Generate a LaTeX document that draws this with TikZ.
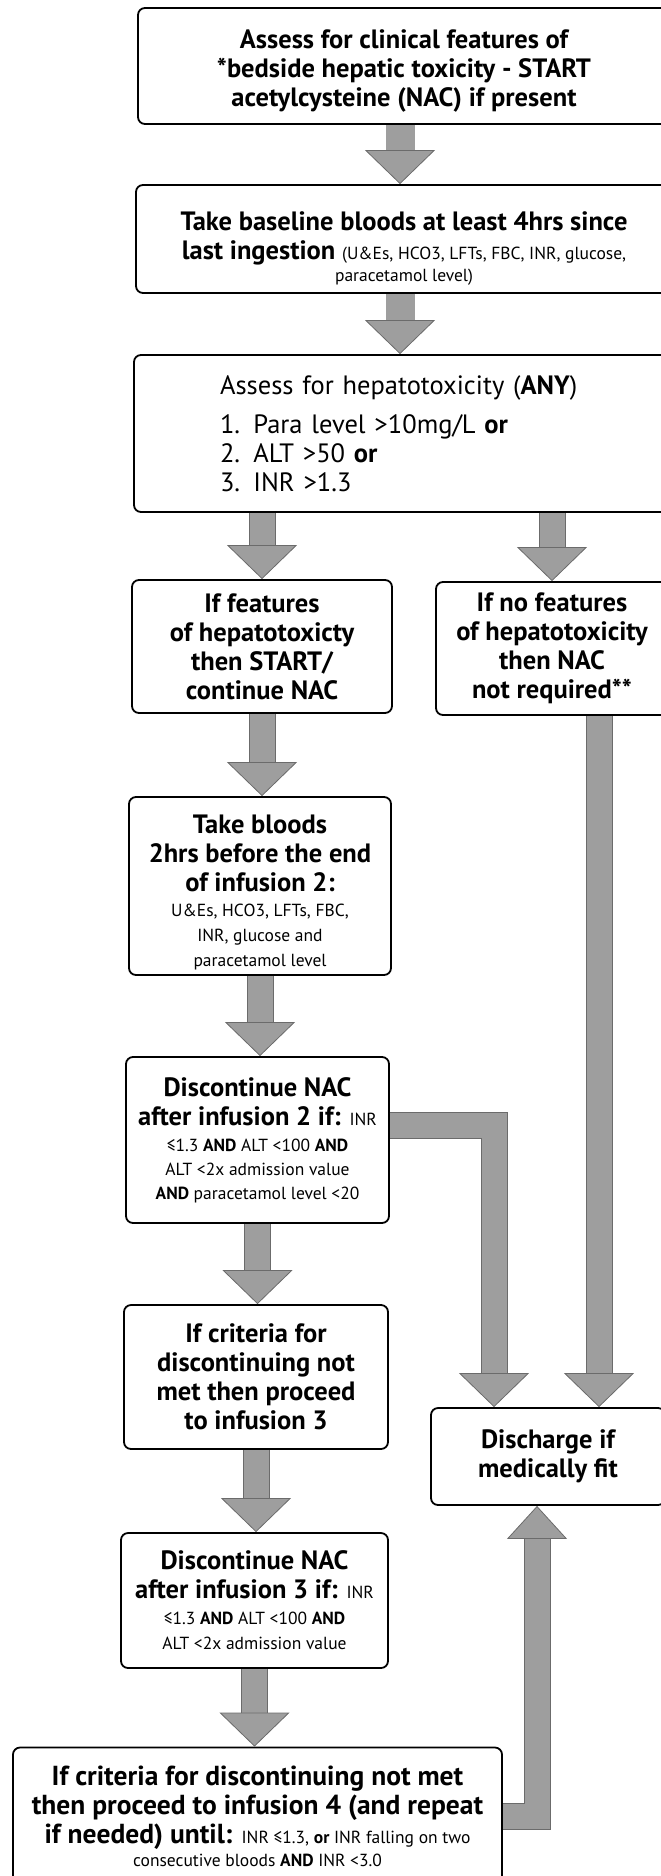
\documentclass[tikz,border=0pt]{standalone}
\usepackage{fontspec}
\setmainfont{PT Sans}
\usetikzlibrary{calc,arrows.meta,positioning}

\definecolor{shade}{gray}{0.62}
\definecolor{shadeedge}{gray}{0.42}

\newcommand{\bg}{\fontsize{26.5}{29}\selectfont}
\newcommand{\sm}{\fontsize{17.5}{22}\selectfont\mdseries}
\newcommand{\lift}[1]{\rule{0pt}{#1pt}}

\begin{document}
\begin{tikzpicture}[x=1pt, y=-1pt,
    box/.style={draw, line width=1.8pt, rounded corners=7pt, align=center, inner sep=0pt, font=\bfseries\bg},
    flow/.style={line width=25pt, draw=shade, line join=miter,
      -{Triangle[width=70pt, length=34pt, line width=0.8pt, color=shadeedge, fill=shade]},
      preaction={draw=shadeedge, line width=27pt, shorten >=33pt, -}}]
    \useasboundingbox (0,0) rectangle (661,1876);
    \clip (0,0) rectangle (661,1876);

    % boxes
    \node[box, minimum width=532pt, minimum height=116pt] (start) at (404,66)
      {\lift{29}Assess for clinical features of\\ *bedside hepatic toxicity - START\\ acetylcysteine (NAC) if present};
    \node[box, minimum width=536pt, minimum height=108pt] (base) at (404,239)
      {\lift{37}Take baseline bloods at least 4hrs since\\ last ingestion {\sm (U\&Es, HCO3, LFTs, FBC, INR, glucose,}\\[-7pt] {\sm paracetamol level)}};
    \node[box, minimum width=540pt, minimum height=157pt, align=left, text width=368pt, font=\mdseries\bg] (assess) at (404,433.5)
      {Assess for hepatotoxicity (\textbf{ANY})\\[10pt] 1. Para level >10mg/L \textbf{or}\\ 2. ALT >50 \textbf{or}\\ 3. INR >1.3};
    \node[box, minimum width=260pt, minimum height=133pt] (feat) at (262,646.5)
      {If features\\ of hepatotoxicty\\ then START/\\ continue NAC};
    \node[box, minimum width=232pt, minimum height=133pt] (nofeat) at (552,648.5)
      {If no features\\ of hepatotoxicity\\ then NAC\\ not required**};
    \node[box, minimum width=262pt, minimum height=178pt] (bloods) at (260,886)
      {\lift{31}Take bloods\\ 2hrs before the end\\ of infusion 2:\\[-4pt] {\sm U\&Es, HCO3, LFTs, FBC,}\\[-4pt]
       {\sm INR, glucose and}\\[-4pt] {\sm paracetamol level}};
    \node[box, minimum width=263pt, minimum height=166pt] (stoptwo) at (257.5,1140)
      {Discontinue NAC\\ after infusion 2 if: {\sm INR}\\[-3pt] {\sm ≤1.3 \textbf{AND} ALT <100 \textbf{AND}}\\[-5pt]
       {\sm ALT <2x admission value}\\[-5pt] {\sm \textbf{AND} paracetamol level <20}};
    \node[box, minimum width=264pt, minimum height=144pt] (gothree) at (256,1377)
      {If criteria for\\ discontinuing not\\ met then proceed\\ to infusion 3};
    \node[box, minimum width=234pt, minimum height=97pt] (discharge) at (548,1456.5)
      {Discharge if\\ medically fit};
    \node[box, minimum width=267pt, minimum height=135pt] (stopthree) at (254.5,1600.5)
      {Discontinue NAC\\ after infusion 3 if: {\sm INR}\\[-3pt] {\sm ≤1.3 \textbf{AND} ALT <100 \textbf{AND}}\\[-4pt]
       {\sm ALT <2x admission value}};
    \node[box, minimum width=489pt, minimum height=137pt, font=\bfseries\fontsize{27.5}{29}\selectfont] (gofour) at (257.5,1816)
      {If criteria for discontinuing not met\\ then proceed to infusion 4 (and repeat\\
       if needed) until: {\sm INR ≤1.3, \textbf{or} INR falling on two}\\[-6pt] {\sm consecutive bloods \textbf{AND} INR <3.0}};

    % arrows
    \draw[flow, line width=29pt, preaction={line width=31pt}] ($(start.south)+(-4,0)$) -- ($(base.north)+(-4,0)$);
    \draw[flow, line width=29pt, preaction={line width=31pt}] ($(base.south)+(-4,0)$) -- ($(assess.north)+(-4,0)$);
    \draw[flow] (feat.north |- assess.south) -- (feat.north);
    \draw[flow] (nofeat.north |- assess.south) -- (nofeat.north);
    \draw[flow] (feat.south) -- (bloods.north -| feat.south);
    \draw[flow] (bloods.south) -- (stoptwo.north -| bloods.south);
    \draw[flow] (stoptwo.south) -- (gothree.north -| stoptwo.south);
    \draw[flow] (gothree.south) -- (stopthree.north -| gothree.south);
    \draw[flow] (stopthree.south) -- (gofour.north -| stopthree.south);
    \draw[flow] ($(nofeat.south)+(47,0)$) -- ($(discharge.north)+(51,0)$);
    \draw[flow] ($(stoptwo.east)+(0,-15)$) -| ($(discharge.north)+(-54,0)$);
    \draw[flow, -{Triangle[width=60pt, length=33pt, line width=0.8pt, color=shadeedge, fill=shade]}] (gofour.east) -| ($(discharge.south)+(-11,0)$);
\end{tikzpicture}
\end{document}
